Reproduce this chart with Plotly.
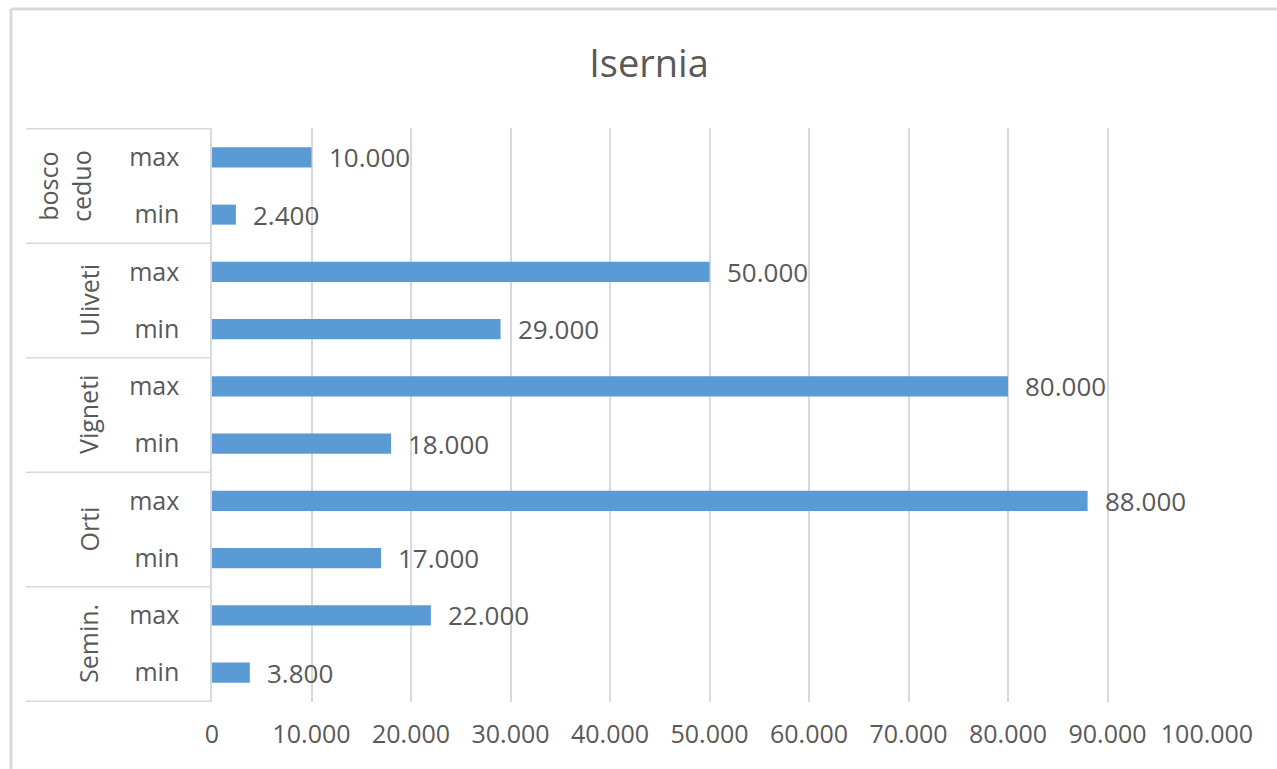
import plotly.graph_objects as go

# ---- data ----
groups = ["bosco ceduo", "Uliveti", "Vigneti", "Orti", "Semin."]
group_labels = ["bosco<br>ceduo", "Uliveti", "Vigneti", "Orti", "Semin."]
sub_labels = ["max", "min"]
max_vals = [10000, 50000, 80000, 88000, 22000]
min_vals = [2400, 29000, 18000, 17000, 3800]
x_ticks = [0, 10000, 20000, 30000, 40000, 50000, 60000, 70000, 80000, 90000, 100000]

# ---- build category list (top to bottom) ----
cats, vals, ticktext = [], [], []
for g, mx, mn in zip(groups, max_vals, min_vals):
    for s, v in zip(sub_labels, [mx, mn]):
        cats.append(f"{g}|{s}")
        vals.append(v)
        ticktext.append(s)

W, H = 1277, 769
L, R, T, B = 212, 1207, 128, 702
TEXT = "#595959"
GRID = "#D9D9D9"
BAR = "#5B9BD5"
FONT = "Open Sans"

def px_x(p):
    return (p - L) / (R - L)

def px_y(p):
    return (B - p) / (B - T)

fig = go.Figure(go.Bar(
    x=vals, y=cats, orientation="h", width=0.35,
    marker=dict(color=BAR, line=dict(width=0)),
    hoverinfo="skip",
))

annotations = []
# data labels
for c, v in zip(cats, vals):
    annotations.append(dict(
        x=v, y=c, xref="x", yref="y", text=f"{v:,.0f}".replace(",", "."),
        showarrow=False, xanchor="left", yanchor="middle", xshift=15,
        font=dict(family=FONT, size=26, color=TEXT)))
# group labels (rotated)
for i, gl in enumerate(group_labels):
    annotations.append(dict(
        x=0, y=2 * i + 0.5, xref="paper", yref="y", text=gl,
        showarrow=False, textangle=-90, xanchor="center", yanchor="middle",
        xshift=-148 if "<br>" in gl else -124,
        font=dict(family=FONT, size=25, color=TEXT)))

shapes = []
# divider lines of the category table
for k in range(len(groups) + 1):
    shapes.append(dict(type="line", xref="paper", yref="y",
                       x0=px_x(26), x1=0, y0=2 * k - 0.5, y1=2 * k - 0.5,
                       line=dict(color=GRID, width=1.5)))
# chart border (top and left)
shapes.append(dict(type="line", xref="paper", yref="paper",
                   x0=px_x(11), x1=px_x(W + 5), y0=px_y(9), y1=px_y(9),
                   line=dict(color=GRID, width=3)))
shapes.append(dict(type="line", xref="paper", yref="paper",
                   x0=px_x(11), x1=px_x(11), y0=px_y(9), y1=px_y(H + 5),
                   line=dict(color=GRID, width=3)))

fig.update_layout(
    width=W, height=H,
    margin=dict(l=L, r=W - R, t=T, b=H - B),
    paper_bgcolor="white", plot_bgcolor="white",
    separators=",.",
    showlegend=False,
    title=dict(text="Isernia", x=649 / W, xref="container", xanchor="center",
               y=1 - 64 / H, yref="container", yanchor="middle",
               font=dict(family=FONT, size=38, color=TEXT)),
    xaxis=dict(range=[0, 100000], tickvals=x_ticks, tickformat=",.0f",
               showgrid=True, gridcolor=GRID, gridwidth=1.5, zeroline=False,
               showline=False, ticks="", ticklabelstandoff=15,
               tickfont=dict(family=FONT, size=25, color=TEXT), fixedrange=True),
    yaxis=dict(type="category", categoryorder="array", categoryarray=cats,
               autorange="reversed", tickvals=cats, ticktext=ticktext,
               showline=True, linecolor=GRID, linewidth=1.5, showgrid=False,
               ticks="", ticklabelstandoff=26,
               tickfont=dict(family=FONT, size=25, color=TEXT), fixedrange=True),
    annotations=annotations,
    shapes=shapes,
)

fig.write_html("out.html")
